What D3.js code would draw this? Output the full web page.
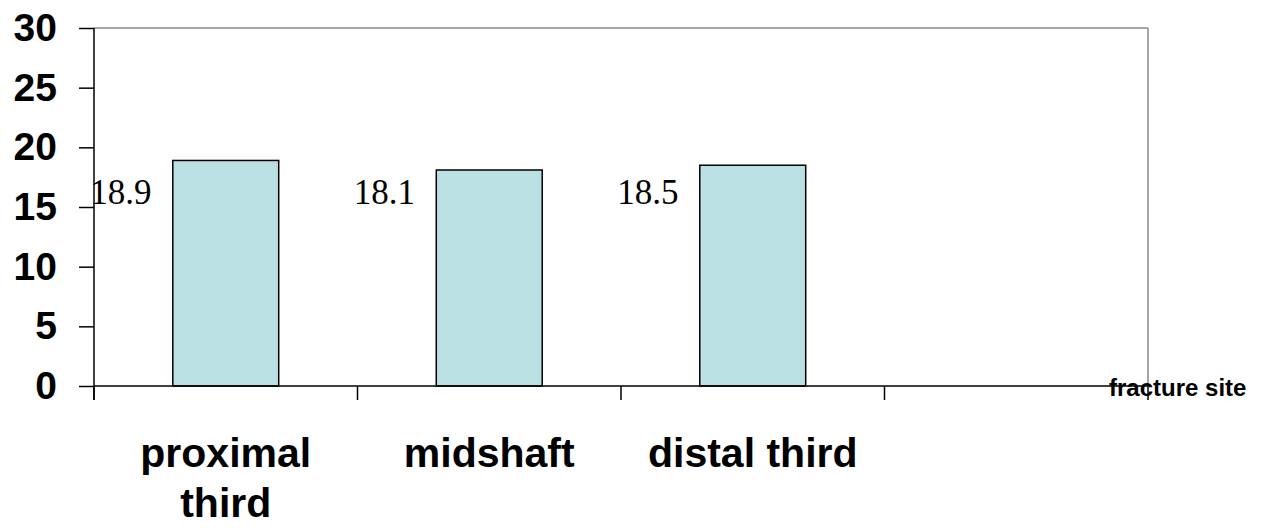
<!DOCTYPE html>
<html>
<head>
<meta charset="utf-8">
<script src="https://cdn.jsdelivr.net/npm/d3@7"></script>
<style>
  body { margin: 0; background: #fff; }
  svg { display: block; }
</style>
</head>
<body>
<svg width="1265" height="528"></svg>
<script>
// chart data
const categories = ["proximal third", "midshaft", "distal third"];
const categoryLines = [["proximal", "third"], ["midshaft"], ["distal third"]];
const values = [18.9, 18.1, 18.5];
const yTicks = [0, 5, 10, 15, 20, 25, 30];
const axisTitle = "fracture site";

const svg = d3.select('svg');
const plotLeft = 94, plotRight = 1148, plotTop = 28, plotBottom = 386;
const slots = 4; // 3 categories plus one empty slot on the right

// one band per slot, bars take ~40% of a band
const x = d3.scaleBand()
    .domain(d3.range(slots))
    .range([plotLeft, plotRight])
    .padding(0);
const barW = x.bandwidth() * 0.402;

const y = d3.scaleLinear()
    .domain([0, 30])
    .range([plotBottom, plotTop]);

// grey frame, top and right
svg.append('line')
    .attr('x1', plotLeft).attr('x2', plotRight)
    .attr('y1', plotTop).attr('y2', plotTop)
    .attr('stroke', '#888').attr('stroke-width', 1.5);
svg.append('line')
    .attr('x1', plotRight).attr('x2', plotRight)
    .attr('y1', plotTop).attr('y2', plotBottom)
    .attr('stroke', '#888').attr('stroke-width', 1.5);

// bars
svg.selectAll('rect.bar')
    .data(values)
    .enter()
    .append('rect')
        .attr('class', 'bar')
        .attr('x', (d, i) => x(i) + (x.bandwidth() - barW) / 2)
        .attr('y', d => y(d))
        .attr('width', barW)
        .attr('height', d => y(0) - y(d))
        .attr('fill', '#bbe0e3')
        .attr('stroke', '#000')
        .attr('stroke-width', 1.5);

// value labels sit left of each bar at a fixed height
svg.selectAll('text.val')
    .data(values)
    .enter()
    .append('text')
        .attr('class', 'val')
        .attr('x', (d, i) => x(i) + x.bandwidth() / 2 - 105)
        .attr('y', y(15) - 3)
        .attr('text-anchor', 'middle')
        .style('font-family', '"Liberation Serif", "Times New Roman", serif')
        .style('font-size', '35px')
        .text(d => d.toFixed(1));

// y axis
const yAxis = d3.axisLeft(y)
    .tickValues(yTicks)
    .tickSize(15)
    .tickPadding(22)
    .tickFormat(d3.format('d'));

const gy = svg.append('g')
    .attr('transform', 'translate(' + plotLeft + ',0)')
    .call(yAxis);
gy.select('.domain').remove();
gy.append('line')
    .attr('x1', 0).attr('x2', 0)
    .attr('y1', plotTop).attr('y2', plotBottom + 14)
    .attr('stroke', '#000').attr('stroke-width', 1.5);
gy.selectAll('.tick line').attr('stroke', '#000').attr('stroke-width', 1.5);
gy.selectAll('.tick text')
    .style('font-family', '"Liberation Sans", Arial, sans-serif')
    .style('font-size', '39px')
    .style('font-weight', 'bold')
    .attr('fill', '#000');

// x axis: ticks at slot boundaries
const gx = svg.append('g');
gx.append('line')
    .attr('x1', plotLeft).attr('x2', plotRight)
    .attr('y1', plotBottom).attr('y2', plotBottom)
    .attr('stroke', '#000').attr('stroke-width', 1.5);
gx.selectAll('line.xt')
    .data(d3.range(slots + 1))
    .enter()
    .append('line')
        .attr('class', 'xt')
        .attr('x1', i => i < slots ? x(i) : plotRight)
        .attr('x2', i => i < slots ? x(i) : plotRight)
        .attr('y1', plotBottom).attr('y2', plotBottom + 14)
        .attr('stroke', '#000').attr('stroke-width', 1.5);

// category labels
const cat = gx.selectAll('text.cat')
    .data(categoryLines)
    .enter()
    .append('text')
        .attr('class', 'cat')
        .attr('x', (d, i) => x(i) + x.bandwidth() / 2)
        .attr('y', 467)
        .attr('text-anchor', 'middle')
        .style('font-family', '"Liberation Sans", Arial, sans-serif')
        .style('font-size', '41px')
        .style('font-weight', 'bold');
cat.selectAll('tspan')
    .data(d => d)
    .enter()
    .append('tspan')
        .attr('x', function () { return d3.select(this.parentNode).attr('x'); })
        .attr('dy', (d, i) => i === 0 ? 0 : 50)
        .text(d => d);

// axis title
svg.append('text')
    .attr('x', 1109)
    .attr('y', 396)
    .style('font-family', '"Liberation Sans", Arial, sans-serif')
    .style('font-size', '24px')
    .style('font-weight', 'bold')
    .text(axisTitle);
</script>
</body>
</html>
